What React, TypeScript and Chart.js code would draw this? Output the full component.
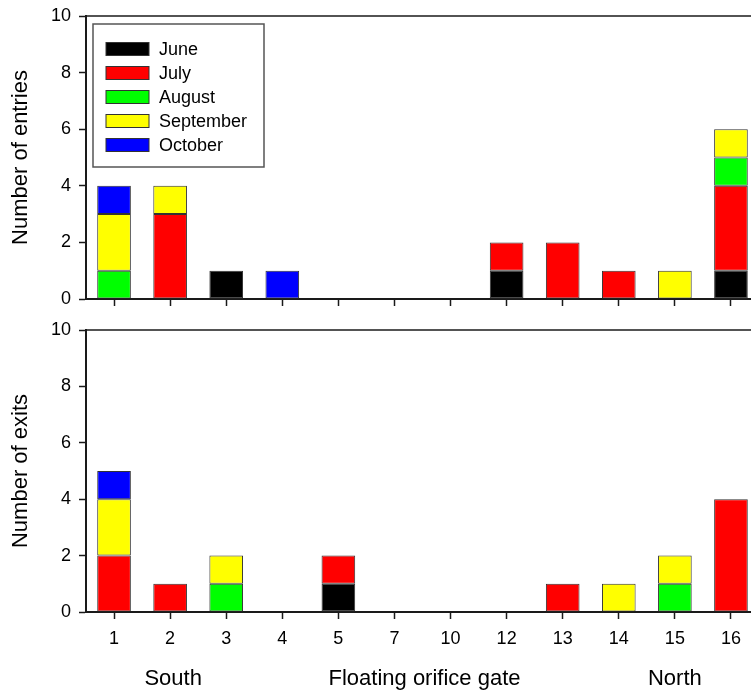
import React, { useEffect, useRef } from 'react';
import { Chart, registerables } from 'chart.js';

Chart.register(...registerables);

const categories = ['1', '2', '3', '4', '5', '7', '10', '12', '13', '14', '15', '16'];
const months = ['June', 'July', 'August', 'September', 'October'];
const monthColors = ['#000000', '#FF0000', '#00FF00', '#FFFF00', '#0000FF'];

const entriesJune = [0, 0, 1, 0, 0, 0, 0, 1, 0, 0, 0, 1];
const entriesJuly = [0, 3, 0, 0, 0, 0, 0, 1, 2, 1, 0, 3];
const entriesAugust = [1, 0, 0, 0, 0, 0, 0, 0, 0, 0, 0, 1];
const entriesSeptember = [2, 1, 0, 0, 0, 0, 0, 0, 0, 0, 1, 1];
const entriesOctober = [1, 0, 0, 1, 0, 0, 0, 0, 0, 0, 0, 0];

const exitsJune = [0, 0, 0, 0, 1, 0, 0, 0, 0, 0, 0, 0];
const exitsJuly = [2, 1, 0, 0, 1, 0, 0, 0, 1, 0, 0, 4];
const exitsAugust = [0, 0, 1, 0, 0, 0, 0, 0, 0, 0, 1, 0];
const exitsSeptember = [2, 0, 1, 0, 0, 0, 0, 0, 0, 1, 1, 0];
const exitsOctober = [1, 0, 0, 0, 0, 0, 0, 0, 0, 0, 0, 0];

const yTicks = [0, 2, 4, 6, 8, 10];
const groupLabels = ['South', 'Floating orifice gate', 'North'];

const FONT = "'Liberation Sans', Arial, sans-serif";
const AXIS = '#1a1a1a';

function buildDatasets(series: number[][]) {
  return series.map((vals, i) => ({
    label: months[i],
    data: vals.map((v) => (v === 0 ? null : v)),
    backgroundColor: monthColors[i],
    borderColor: '#333333',
    borderWidth: 1,
    borderSkipped: false as const,
    barPercentage: 0.6,
    categoryPercentage: 1.0,
  }));
}

const topLinePlugin = {
  id: 'topLine',
  afterDraw(chart: any) {
    const { ctx, chartArea } = chart;
    ctx.save();
    ctx.strokeStyle = AXIS;
    ctx.lineWidth = 1.5;
    ctx.beginPath();
    ctx.moveTo(chartArea.left, chartArea.top);
    ctx.lineTo(chartArea.right, chartArea.top);
    ctx.stroke();
    ctx.restore();
  },
};

const legendBoxPlugin = {
  id: 'legendBox',
  afterDraw(chart: any) {
    const { ctx, chartArea } = chart;
    const x0 = chartArea.left + 7;
    const y0 = chartArea.top + 8;
    ctx.save();
    ctx.strokeStyle = '#555555';
    ctx.lineWidth = 1.5;
    ctx.strokeRect(x0, y0, 171, 143);
    ctx.font = `18px ${FONT}`;
    ctx.textBaseline = 'middle';
    ctx.textAlign = 'left';
    chart.data.datasets.forEach((ds: any, i: number) => {
      const cy = y0 + 25 + i * 24;
      ctx.fillStyle = ds.backgroundColor;
      ctx.fillRect(x0 + 13, cy - 6.5, 43, 13);
      ctx.strokeStyle = '#333333';
      ctx.lineWidth = 1;
      ctx.strokeRect(x0 + 13, cy - 6.5, 43, 13);
      ctx.fillStyle = '#000000';
      ctx.fillText(ds.label, x0 + 66, cy + 1);
    });
    ctx.restore();
  },
};

const groupLabelPlugin = {
  id: 'groupLabels',
  afterDraw(chart: any) {
    const { ctx, chartArea } = chart;
    const xs = chart.scales.x;
    const pos = [
      xs.getPixelForValue(1) + 3,
      (xs.getPixelForValue(5) + xs.getPixelForValue(6)) / 2 + 2,
      xs.getPixelForValue(10),
    ];
    ctx.save();
    ctx.font = `22px ${FONT}`;
    ctx.fillStyle = '#000000';
    ctx.textAlign = 'center';
    ctx.textBaseline = 'middle';
    groupLabels.forEach((t, i) => ctx.fillText(t, pos[i], chartArea.bottom + 67));
    ctx.restore();
  },
};

function makeChart(
  canvas: HTMLCanvasElement,
  series: number[][],
  cfg: { padTop: number; xHeight: number; showX: boolean; yTitle: string; plugins: any[] }
) {
  return new Chart(canvas, {
    type: 'bar',
    data: { labels: categories, datasets: buildDatasets(series) },
    plugins: cfg.plugins,
    options: {
      animation: false,
      responsive: false,
      devicePixelRatio: 1,
      layout: { padding: { top: cfg.padTop, right: 21, left: 0, bottom: 0 } },
      plugins: { legend: { display: false }, tooltip: { enabled: false } },
      scales: {
        x: {
          stacked: true,
          offset: true,
          grid: {
            offset: false,
            drawOnChartArea: false,
            drawTicks: true,
            tickLength: 7,
            tickColor: AXIS,
            tickWidth: 1.5,
          },
          border: { display: true, color: AXIS, width: 2 },
          ticks: {
            display: cfg.showX,
            color: '#000000',
            font: { family: FONT, size: 18 },
            padding: 9,
            maxRotation: 0,
            autoSkip: false,
          },
          afterFit: (scale: any) => {
            scale.height = cfg.xHeight;
            scale.paddingLeft = 0;
            scale.paddingRight = 0;
          },
        },
        y: {
          stacked: true,
          min: 0,
          max: 10,
          afterBuildTicks: (scale: any) => {
            scale.ticks = yTicks.map((v) => ({ value: v }));
          },
          afterFit: (scale: any) => {
            scale.width = 86;
            scale.paddingTop = 0;
            scale.paddingBottom = 0;
          },
          grid: {
            drawOnChartArea: false,
            drawTicks: true,
            tickLength: 7,
            tickColor: AXIS,
            tickWidth: 1.5,
          },
          border: { display: true, color: AXIS, width: 2 },
          ticks: {
            color: '#000000',
            font: { family: FONT, size: 18 },
            padding: 8,
          },
          title: {
            display: true,
            text: cfg.yTitle,
            color: '#000000',
            font: { family: FONT, size: 22 },
            padding: { top: 8, bottom: 0 },
          },
        },
      },
    },
  });
}

export default function App() {
  const topRef = useRef<HTMLCanvasElement>(null);
  const botRef = useRef<HTMLCanvasElement>(null);

  useEffect(() => {
    const c1 = makeChart(
      topRef.current!,
      [entriesJune, entriesJuly, entriesAugust, entriesSeptember, entriesOctober],
      { padTop: 16, xHeight: 31, showX: false, yTitle: 'Number of entries', plugins: [topLinePlugin, legendBoxPlugin] }
    );
    const c2 = makeChart(
      botRef.current!,
      [exitsJune, exitsJuly, exitsAugust, exitsSeptember, exitsOctober],
      { padTop: 10, xHeight: 82, showX: true, yTitle: 'Number of exits', plugins: [topLinePlugin, groupLabelPlugin] }
    );
    return () => {
      c1.destroy();
      c2.destroy();
    };
  }, []);

  return (
    <div
      style={{
        position: 'absolute',
        left: 0,
        top: 0,
        width: 751,
        height: 694,
        overflow: 'hidden',
        background: '#ffffff',
      }}
    >
      <canvas ref={topRef} width={780} height={330} style={{ position: 'absolute', left: 0, top: 0 }} />
      <canvas ref={botRef} width={780} height={374} style={{ position: 'absolute', left: 0, top: 320 }} />
    </div>
  );
}
